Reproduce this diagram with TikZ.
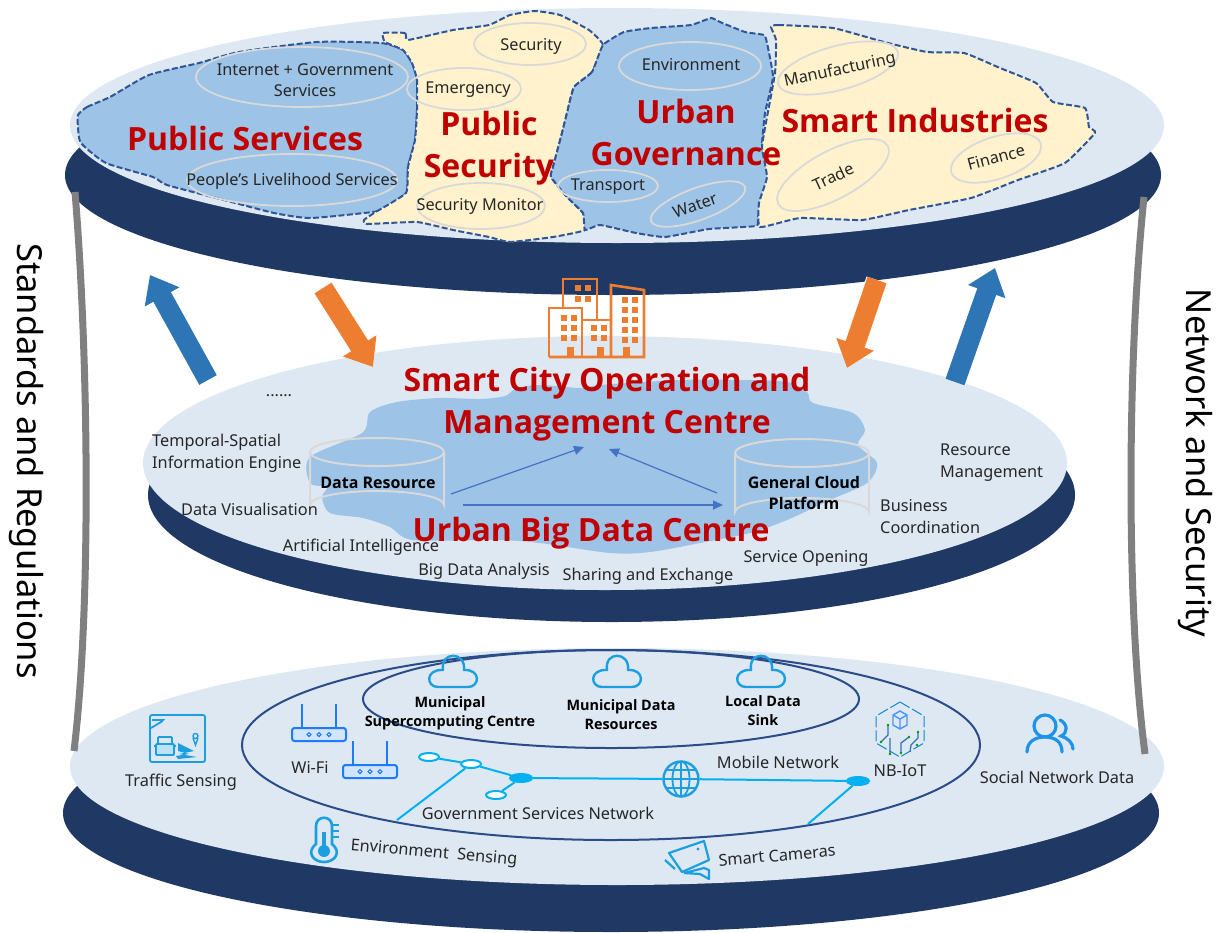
\documentclass[tikz,border=0pt]{standalone}
\usepackage{fontspec}
\setmainfont{Noto Sans}
\newfontfamily\headf{Open Sans}
\usetikzlibrary{arrows.meta,shapes.geometric}
\definecolor{navy}{HTML}{1F3864}
\definecolor{plate}{HTML}{DEE8F2}
\definecolor{skyb}{HTML}{9DC3E6}
\definecolor{cream}{HTML}{FFF2CC}
\definecolor{dashb}{HTML}{2F5597}
\definecolor{redt}{HTML}{C00000}
\definecolor{greyl}{HTML}{D9D9D9}
\definecolor{upb}{HTML}{2E75B6}
\definecolor{downo}{HTML}{ED7D31}
\definecolor{iconb}{HTML}{1C9FE0}
\definecolor{netb}{HTML}{00B0F0}
\definecolor{routerb}{HTML}{1E7BFF}
\definecolor{ink}{HTML}{262626}
\definecolor{thinb}{HTML}{4472C4}
\tikzset{
  lab/.style={inner sep=0pt,yshift=-1.5pt,text=ink,font=\fontsize{16.3}{21.5}\selectfont,align=center},
  labl/.style={lab,align=left,anchor=west},
  blab/.style={inner sep=0pt,text=black,font=\headf\fontsize{14.4}{19}\selectfont\bfseries,align=center},
  bigred/.style={inner sep=0pt,text=redt,font=\headf\fontsize{32}{42}\selectfont\bfseries,align=center},
  sidet/.style={inner sep=0pt,text=black,rotate=-90,font=\fontsize{34.5}{38}\selectfont},
  platebase/.style={fill=navy},
  platetop/.style={fill=plate},
  region/.style={draw=dashb,line width=2pt,dash pattern=on 6pt off 2.5pt},
  oval/.style={draw=greyl,line width=1.8pt},
  cyl/.style={draw=greyl,line width=2pt},
  net/.style={draw=netb,line width=2pt},
  netdot/.style={ellipse,net,fill=white,minimum width=20pt,minimum height=8pt,inner sep=0pt},
  nethub/.style={ellipse,net,fill=netb,minimum width=22pt,minimum height=8pt,inner sep=0pt},
  flow/.style={draw=#1,line width=20pt,-{Triangle[length=25pt,width=38pt]}},
  flowedge/.style={draw=white,line width=22pt,-{Triangle[length=28pt,width=43pt]}},
  thin arrow/.style={draw=thinb,line width=1.2pt,-{Triangle[length=10pt,width=9pt]}},
  ring/.style={draw=dashb!70!navy,line width=2pt},
  rail/.style={draw=black!50,line width=7pt},
  pics/cloudicon/.style={code={
    \draw[draw=iconb,line width=2.4pt,line join=round]
      (-15,15) -- (15,15) .. controls (27,15) and (28,-3) .. (11,-2)
      .. controls (13,-21) and (-13,-21) .. (-10,-2)
      .. controls (-28,-3) and (-27,15) .. (-15,15) -- cycle;}},
  pics/routericon/.style={code={
    \draw[routerb,line width=1.5pt] (-17,0) -- (-17,-24) (17,0) -- (17,-24);
    \draw[routerb,fill=routerb!20,line width=2pt,rounded corners=2.5pt] (-27,0) rectangle (27,13);
    \foreach \q in {-10,0,10}{\draw[routerb,fill=white,line width=1.2pt] (\q,6.5) circle (1.9pt);}}}
}
\begin{document}
\begin{tikzpicture}[x=1pt,y=-1pt]
\useasboundingbox (0,0) rectangle (1217,932);
\fill[white] (0,0) rectangle (1217,932);

% bottom plate
\fill[platebase] (611,813) ellipse [x radius=548pt,y radius=119pt];
\fill[platetop] (617,766.5) ellipse [x radius=547pt,y radius=118.5pt];
% middle plate
\fill[platebase] (611.5,495) ellipse [x radius=463.5pt,y radius=127pt];
\fill[platetop] (605,463) ellipse [x radius=462pt,y radius=127pt];
% top plate
\fill[platebase] (613,175) ellipse [x radius=548pt,y radius=120pt];
\fill[platetop] (617,125.5) ellipse [x radius=547pt,y radius=117.5pt];

% regions
\draw[region,fill=skyb] plot[smooth cycle,tension=0.35] coordinates {(78,115)(87,107)(110,97)(149,75)(199,63)(239,52)(317,42)(381,43)(403,50)(412,63)(417,80)(417,110)(415,140)(408,167)(406,193)(381,210)(364,213)(310,218)(274,213)(224,200)(167,185)(153,177)(106,163)(81,143)(78,127)};
\draw[region,fill=cream,smooth cycle] plot[tension=0.25] coordinates {(383,33)(405,33)(408,40)(453,30)(489,25)(510,15)(535,11)(560,15)(589,30)(603,45)(592,72)(574,87)(567,113)(562,133)(553,167)(551,177)(567,197)(583,213)(585,230)(553,237)(510,242)(489,237)(453,230)(417,222)(367,224)(364,220)(374,213)(406,193)(408,167)(415,140)(417,110)(417,80)(412,63)(403,50)(385,42)};
\draw[region,fill=skyb,smooth cycle] plot[tension=0.25] coordinates {(603,45)(592,72)(574,87)(567,113)(562,133)(553,167)(551,177)(567,197)(583,213)(585,230)(600,225)(636,233)(665,237)(709,229)(756,226)(758,217)(769,177)(762,147)(765,113)(773,77)(767,43)(764,35)(745,32)(720,22)(711,18)(691,25)(651,28)(624,32)};
\draw[region,fill=cream,smooth cycle] plot[tension=0.25] coordinates {(771,27)(778,25)(833,28)(884,42)(927,52)(964,53)(1000,68)(1036,83)(1053,102)(1085,108)(1089,127)(1095,133)(1065,163)(1018,180)(971,198)(909,210)(862,220)(800,218)(760,227)(759,203)(767,177)(762,147)(767,117)(775,73)(776,40)};

% ovals
\draw[oval] (302,77) ellipse [x radius=106pt,y radius=30pt];
\draw[oval] (292,180) ellipse [x radius=105pt,y radius=26pt];
\draw[oval] (530,44) ellipse [x radius=56pt,y radius=21pt];
\draw[oval] (464,89) ellipse [x radius=57pt,y radius=21pt];
\draw[oval] (481,206) ellipse [x radius=64pt,y radius=23pt];
\draw[oval] (608,186) ellipse [x radius=50pt,y radius=16pt];
\draw[oval] (690,66) ellipse [x radius=71pt,y radius=24pt];
\draw[oval,rotate around={20:(698,204)}] (698,204) ellipse [x radius=50pt,y radius=16pt];
\draw[oval,rotate around={15:(838,68)}] (838,68) ellipse [x radius=62pt,y radius=22pt];
\draw[oval,rotate around={28:(833,175)}] (833,175) ellipse [x radius=62pt,y radius=24pt];
\draw[oval,rotate around={18:(996,158)}] (996,158) ellipse [x radius=47pt,y radius=21pt];

% oval texts
\node[lab] (tInternet) at (305,78.5) {Internet + Government\\Services};
\node[lab] (tPeople) at (292,180) {People’s Livelihood Services};
\node[lab] (tSec) at (531,45) {Security};
\node[lab] (tEmer) at (468,88) {Emergency};
\node[lab] (tMon) at (480,205) {Security Monitor};
\node[lab] (tTrans) at (608,185) {Transport};
\node[lab] (tEnv) at (691,63) {Environment};
\node[lab,rotate=20] (tWater) at (695,204) {Water};
\node[lab,rotate=12] (tManu) at (840,69) {Manufacturing};
\node[lab,rotate=25] (tTrade) at (833,175) {Trade};
\node[lab,rotate=15] (tFin) at (996,156) {Finance};

% top titles
\node[bigred] (tPS) at (245,138) {Public Services};
\node[bigred] (tPSec) at (489,148) {Public\\Security};
\node[bigred] (tUG) at (686,132) {Urban\\Governance};
\node[bigred] (tSI) at (915,120) {Smart Industries};

% centre cloud
\fill[skyb] plot[smooth cycle,tension=0.5] coordinates {(362,433)(370,412)(397,402)(440,398)(480,399)(505,396)(517,388)(540,385)(580,388)(600,385)(680,380)(740,380)(787,382)(807,392)(813,403)(853,413)(865,430)(858,445)(877,463)(867,483)(830,500)(787,520)(750,533)(700,543)(650,552)(610,553)(540,543)(497,540)(413,540)(390,527)(363,518)(330,513)(322,497)(327,487)(310,483)(310,457)};

% cylinders
\draw[cyl] (310,452) -- (310,505) arc [start angle=180,end angle=360,x radius=67pt,y radius=-14pt] -- (444,452);
\draw[cyl] (377,452) ellipse [x radius=67pt,y radius=14pt];
\draw[cyl] (735,453) -- (735,512) arc [start angle=180,end angle=360,x radius=67pt,y radius=-14pt] -- (869,453);
\draw[cyl] (802,453) ellipse [x radius=67pt,y radius=14pt];
\node[blab,font=\headf\fontsize{16}{21.5}\selectfont\bfseries] (dataRes) at (378,483) {Data Resource};
\node[blab,font=\headf\fontsize{16}{21.5}\selectfont\bfseries] (cloudPlat) at (804,493) {General Cloud\\Platform};

% inner arrows
\coordinate (drOut) at (451,494);
\coordinate (drHoriz) at (463,505);
\coordinate (gcIn) at (723,505);
\coordinate (gcOut) at (717,493);
\coordinate (hubL) at (584,447);
\coordinate (hubR) at (609,449);
\draw[thin arrow] (drOut) -- (hubL);
\draw[thin arrow] (gcOut) -- (hubR);
\draw[thin arrow] (drHoriz) -- (gcIn);

% middle titles
\node[bigred] (tSC) at (607,404) {Smart City Operation and\\Management Centre};
\node[bigred] (tUB) at (591,533) {Urban Big Data Centre};

% middle labels
\node[lab] (tDots) at (279,394) {......};
\node[labl] (tTemporal) at (152,452) {Temporal-Spatial\\Information Engine};
\node[lab] (tVis) at (249.5,508) {Data Visualisation};
\node[lab] (tAI) at (361,546) {Artificial Intelligence};
\node[lab] (tBDA) at (484,570) {Big Data Analysis};
\node[lab] (tShare) at (648,575) {Sharing and Exchange};
\node[lab] (tOpen) at (806,557) {Service Opening};
\node[labl] (tBiz) at (880,515) {Business\\Coordination};
\node[labl] (tResM) at (940,461) {Resource\\Management};

% flow arrows
\coordinate (lUpS) at (208,380);
\coordinate (lUpE) at (150,275);
\coordinate (lDnS) at (323,288);
\coordinate (lDnE) at (373,367);
\coordinate (rDnS) at (877,280);
\coordinate (rDnE) at (847,368);
\coordinate (rUpS) at (955,382);
\coordinate (rUpE) at (995,268);
\draw[flowedge] (lDnS) -- (lDnE);
\draw[flowedge] (rDnS) -- (rDnE);
\draw[flowedge] (rUpS) -- (rUpE);
\draw[flowedge] (lUpS) -- (lUpE);
\draw[flow=upb] (lUpS) -- (lUpE);
\draw[flow=downo] (lDnS) -- (lDnE);
\draw[flow=downo] (rDnS) -- (rDnE);
\draw[flow=upb] (rUpS) -- (rUpE);

% building icon
\begin{scope}[draw=downo,line width=2.6pt]
\draw (563,308) -- (563,279) -- (597,279) -- (597,320);
\draw (549,357) -- (549,308) -- (582,308) -- (582,357);
\draw (582,320) -- (611,320);
\draw (611,357) -- (611,285) -- (644,290) -- (644,357) -- (549,357) -- cycle;
\end{scope}
\foreach \a/\b in {575/285,585/285,575/296,585/296,561/315,571/315,561/325,571/325,561/335,571/335,591/325,601/325,591/335,601/335,622/297,632/297,622/307,632/307,622/317,632/317,622/327,632/327,622/337,632/337}{
  \fill[downo] (\a,\b) rectangle +(6,6);}
\fill[downo] (567,347) rectangle +(7,9);
\fill[downo] (597,347) rectangle +(7,9);
\fill[downo] (623,347) rectangle +(7,9);

% bottom rings
\draw[ring] (611,745) ellipse [x radius=369pt,y radius=95pt];
\draw[ring] (611,699) ellipse [x radius=248pt,y radius=49pt];

% clouds and labels
\pic at (453,672) {cloudicon};
\pic at (617,672) {cloudicon};
\pic at (761,672) {cloudicon};
\node[blab] (tMS) at (450,713.5) {Municipal\\Supercomputing Centre};
\node[blab] (tMD) at (621,714.5) {Municipal Data\\Resources};
\node[blab] (tLD) at (763,711) {Local Data\\Sink};

% routers
\pic at (319,728) {routericon};
\pic at (370,765) {routericon};
\node[lab] (tWifi) at (310,766) {Wi-Fi};

% traffic icon
\begin{scope}[draw=iconb,line width=1.8pt]
\draw[rounded corners=2pt] (150,715) rectangle (205,762);
\draw (151,728) -- (161,722) -- (163,720) -- (152,720);
\draw[fill=iconb!30,rounded corners=1pt] (156,744) rectangle (174,755);
\draw[rounded corners=1pt] (158,744) -- (158,737) -- (172,737) -- (172,744);
\draw (154,746) -- (156,746) (174,746) -- (176,746);
\fill[iconb] (178,743) -- (194,751) -- (179,754) -- (197,757) -- (178,759) -- (176,756) -- (189,754) -- (178,751) -- cycle;
\draw[line width=1.4pt] (195.5,736) circle (2.5pt);
\draw[line width=1.4pt] (193,738) -- (195.5,745) -- (198,738);
\end{scope}
\node[lab] (tTraffic) at (181,781) {Traffic Sensing};

% network
\node[netdot] (nA) at (429,757) {};
\node[netdot] (nB) at (471,764) {};
\node[nethub] (nC) at (521,778) {};
\node[netdot] (nD) at (496,795) {};
\node[nethub] (nE) at (858,781) {};
\node[circle,draw=iconb,line width=2.4pt,minimum size=35pt,inner sep=0pt] (globe) at (681,779) {};
\draw[iconb,line width=1.8pt] (681,779) ellipse [x radius=8.5pt,y radius=17.5pt];
\draw[iconb,line width=1.8pt] (681,761.5) -- (681,796.5) (663.5,779) -- (698.5,779) (666,770) -- (696,770) (666,788) -- (696,788);
\coordinate (edgeL) at (397,820);
\coordinate (edgeR) at (808,824);
\draw[net] (nA) -- (nB);
\draw[net] (nB) -- (nC);
\draw[net] (nC) -- (nD);
\draw[net] (nB) -- (edgeL);
\draw[net] (nC) -- (globe);
\draw[net] (globe) -- (nE);
\draw[net] (nE) -- (edgeR);
\node[lab] (tGov) at (538,812) {Government Services Network};
\node[lab] (tMob) at (778,761) {Mobile Network};
\node[lab] (tNB) at (900,769) {NB-IoT};
\node[lab] (tSoc) at (1057,776) {Social Network Data};

% NB-IoT icon
\draw[cyan!70!blue,line width=1pt,dash pattern=on 11pt off 3pt] (900,702) -- (924,716) -- (924,743) -- (900,757) -- (876,743) -- (876,716) -- cycle;
\draw[routerb!80,line width=1.4pt] (900,711) -- (907,715) -- (907,725) -- (900,729) -- (893,725) -- (893,715) -- cycle (893,715) -- (900,719) -- (907,715) (900,719) -- (900,729);
\draw[upb,line width=1.3pt] (888,725) -- (888,735) -- (881,742) (890,738) -- (890,754) (901,753) -- (901,743) -- (909,737) (910,752) -- (911,745) -- (918,738) -- (918,732);
\fill[green!60!black] (881,742) circle (1.4pt) (888,725) circle (1.4pt) (890,754) circle (1.4pt) (901,753) circle (1.4pt) (918,732) circle (1.4pt) (917,745) circle (1.4pt) (909,737) circle (1.4pt);

% social icon
\begin{scope}[draw=iconb!70!routerb,line width=3.2pt,line cap=round]
\draw (1045,726) circle [x radius=11pt,y radius=11pt];
\draw (1027,752) .. controls (1027,741) and (1036,737) .. (1045,737) .. controls (1054,737) and (1062,741) .. (1062,752);
\draw (1060,720) .. controls (1068,724) and (1068,733) .. (1061,736) .. controls (1068,738) and (1073,743) .. (1073,749);
\end{scope}

% thermometer
\draw[iconb,line width=2.6pt] (316,844) -- (316,826) .. controls (316,815) and (332,815) .. (332,826) -- (332,844) .. controls (342,852) and (335,862) .. (324,862) .. controls (313,862) and (306,852) .. (316,844) -- cycle;
\fill[iconb] (324,851) circle (6pt);
\draw[iconb,line width=3.6pt] (324,851) -- (324,832);
\draw[iconb,line width=1.6pt] (333,825) -- (339,825) (333,831) -- (339,831) (333,837) -- (339,837);
\node[lab,rotate=-5] (tEnvS) at (434,852) {Environment\ \ Sensing};

% camera
\begin{scope}[draw=iconb,line width=2.2pt,line join=round]
\draw (669,853) -- (704,841) -- (709,860) -- (682,872) -- cycle;
\draw (665,860) -- (675,869);
\draw (684,873) -- (704,868) -- (709,870) -- (709,879) -- (700,874) -- (684,873);
\fill[iconb] (698,849) circle (1.7pt);
\end{scope}
\node[lab,rotate=5] (tCam) at (777,854) {Smart Cameras};

% side rails
\coordinate (railLa) at (75,192);
\coordinate (railLb) at (74,751);
\coordinate (railRa) at (1144,197);
\coordinate (railRb) at (1145,754);
\draw[rail] (railLa) .. controls (88,350) and (92,600) .. (railLb);
\draw[rail] (railRa) .. controls (1128,350) and (1125,600) .. (railRb);
\node[sidet] (tStd) at (26,461) {Standards and Regulations};
\node[sidet] (tNet) at (1195,463) {Network and Security};
\end{tikzpicture}
\end{document}
